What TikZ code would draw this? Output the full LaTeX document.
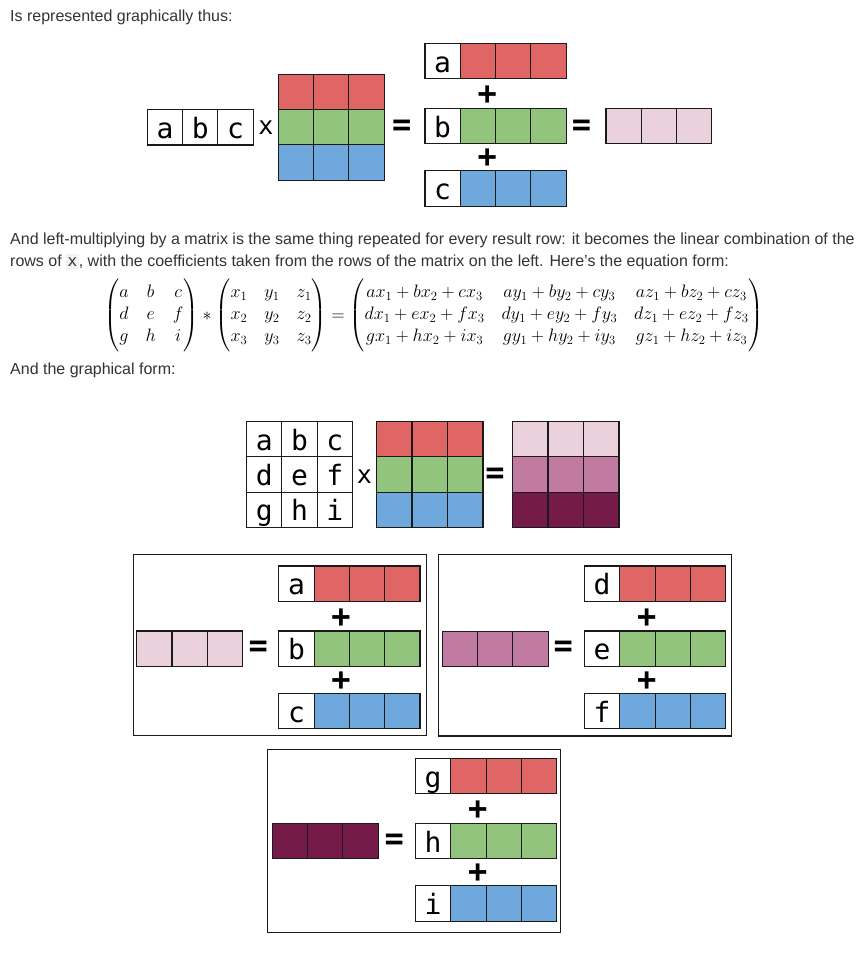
\RequirePackage{fix-cm}
\documentclass[tikz,border=0pt]{standalone}
\usepackage{amsmath}
\usepackage[no-math]{fontspec}
\setmainfont{Liberation Sans}
\setmonofont{DejaVu Sans Mono}
\usetikzlibrary{positioning}
\definecolor{TextGray}{HTML}{333333}
\definecolor{CodeBg}{HTML}{F3F3F3}
\definecolor{Line}{HTML}{1A1A1A}
\definecolor{RowRed}{HTML}{E06666}
\definecolor{RowGreen}{HTML}{93C47D}
\definecolor{RowBlue}{HTML}{6FA8DC}
\definecolor{PinkLight}{HTML}{EAD1DC}
\definecolor{PinkMid}{HTML}{C27BA0}
\definecolor{PinkDark}{HTML}{741B47}

\newcommand{\code}[1]{{\setlength{\fboxsep}{0pt}\colorbox{CodeBg}{\hspace{1.5pt}\rule[-3.5pt]{0pt}{16.5pt}\ttfamily #1\hspace{1.5pt}}}}

% three scaled rows of X with plus signs: prefix, x, y, letters
\newcommand{\rowstack}[6]{%
  \foreach \lt/\dy/\clr [count=\n] in {#4/0/RowRed,#5/65/RowGreen,#6/127.5/RowBlue} {
    \node[lbl, anchor=north west] (#1\n0) at (#2,#3+\dy) {\lt};
    \foreach \j [count=\pj from 0] in {1,2,3} \node[cell, fill=\clr, right=0pt of #1\n\pj] (#1\n\j) {};
  }
  \node[op] (#1plus1) at (#2+62.3,#3+51.7) {+};
  \node[op] (#1plus2) at (#2+62.3,#3+115) {+};
}
% one result row: name, x, y, colour
\newcommand{\resrow}[4]{%
  \node[cell, fill=#4, anchor=north west] (#11) at (#2,#3) {};
  \node[cell, fill=#4, right=0pt of #11] (#12) {};
  \node[cell, fill=#4, right=0pt of #12] (#13) {};
}

\begin{document}
\begin{tikzpicture}[x=1pt, y=-1pt]
\tikzset{cell/.style={draw=Line, line width=1.1pt, minimum width=35.3pt, minimum height=35.3pt, inner sep=0pt, outer sep=0pt}, lbl/.style={cell, fill=white, font=\fontsize{28}{28}\selectfont\ttfamily, text height=28.8pt, text depth=6.5pt}, op/.style={inner sep=0pt, font=\fontsize{32}{32}\selectfont\ttfamily\bfseries}, times/.style={inner sep=0pt, font=\fontsize{25}{25}\selectfont\ttfamily}, txt/.style={anchor=base west, inner sep=0pt, text=TextGray, font=\fontsize{16}{20}\selectfont}, frame/.style={draw=Line, line width=1.2pt}}
\useasboundingbox (0,0) rectangle (865,953);
\fill[white] (0,0) rectangle (865,953);

\node[txt] (intro) at (10,21.3) {Is represented graphically thus:};

% row vector times X
\foreach \lt [count=\cc] in {a,b,c} \node[lbl, anchor=north west] (v\cc) at ({147.3+35.3*(\cc-1)},109.7) {\lt};
\node[times] (tx) at (266,128) {x};
\foreach \clr [count=\rr] in {RowRed,RowGreen,RowBlue} \foreach \cc in {1,2,3} \node[cell, fill=\clr, anchor=north west] (X\rr\cc) at ({278.3+35.3*(\cc-1)},{74.3+35.3*(\rr-1)}) {};
\node[op] (teq1) at (401.7,128) {=};
\rowstack{t}{425}{43.3}{a}{b}{c}
\node[op] (teq2) at (581.5,127.5) {=};
\resrow{ts}{606}{108.3}{PinkLight}

\node[txt] (para1) at (10,244) {And left-multiplying by a matrix is the same thing repeated for every result row: it becomes the linear combination of the};
\node[txt] (para2) at (10,266.7) {rows of \code{x}, with the coefficients taken from the rows of the matrix on the left. Here's the equation form:};

\node (eqn) at (434,315.5) {\fontsize{18}{22}\selectfont\setlength{\arraycolsep}{8.5pt}\delimitershortfall=-5pt$\displaystyle
\begin{pmatrix} a & b & c\\ d & e & f\\ g & h & i \end{pmatrix} *
\begin{pmatrix} x_1 & y_1 & z_1\\ x_2 & y_2 & z_2\\ x_3 & y_3 & z_3 \end{pmatrix} =
\begin{pmatrix} ax_1+bx_2+cx_3 & ay_1+by_2+cy_3 & az_1+bz_2+cz_3\\
dx_1+ex_2+fx_3 & dy_1+ey_2+fy_3 & dz_1+ez_2+fz_3\\
gx_1+hx_2+ix_3 & gy_1+hy_2+iy_3 & gz_1+hz_2+iz_3 \end{pmatrix}$};

\node[txt] (para3) at (10,374) {And the graphical form:};

% matrix times X
\foreach \row [count=\rr] in {{a,b,c},{d,e,f},{g,h,i}} \foreach \lt [count=\cc] in \row \node[lbl, anchor=north west] (m\rr\cc) at ({246.7+35.2*(\cc-1)},{421.7+35.2*(\rr-1)}) {\lt};
\node[times] (bx) at (364.3,476.7) {x};
\foreach \clr [count=\rr] in {RowRed,RowGreen,RowBlue} \foreach \cc in {1,2,3} \node[cell, fill=\clr, anchor=north west] (Y\rr\cc) at ({376.7+35.5*(\cc-1)},{421.7+35.2*(\rr-1)}) {};
\node[op] (beq) at (495,476) {=};
\foreach \clr [count=\rr] in {PinkLight,PinkMid,PinkDark} \foreach \cc in {1,2,3} \node[cell, fill=\clr, anchor=north west] (R\rr\cc) at ({512.7+35.5*(\cc-1)},{421.7+35.2*(\rr-1)}) {};

% one box per result row
\draw[frame] (133.3,554.3) rectangle (426.7,735.7);
\resrow{ps}{136.7}{631}{PinkLight}
\node[op] (peq) at (258.3,648.3) {=};
\rowstack{p}{278.8}{566}{a}{b}{c}

\draw[frame] (438.3,554.3) rectangle (731.5,736);
\resrow{qs}{442.3}{631.3}{PinkMid}
\node[op] (qeq) at (563.3,649) {=};
\rowstack{q}{584.5}{566}{d}{e}{f}

\draw[frame] (267.7,749.3) rectangle (560.7,932.7);
\resrow{rs}{272.3}{823.5}{PinkDark}
\node[op] (req) at (394.3,841.7) {=};
\rowstack{r}{415.5}{758.3}{g}{h}{i}
\end{tikzpicture}
\end{document}
